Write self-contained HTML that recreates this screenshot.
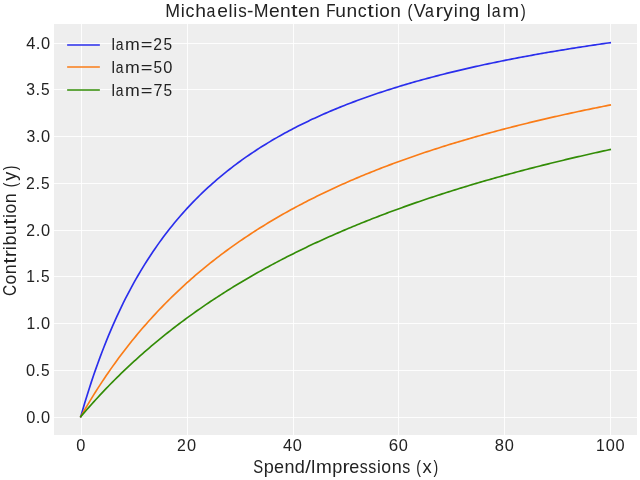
<!DOCTYPE html>
<html><head><meta charset="utf-8"><title>Michaelis-Menten Function (Varying lam)</title><style>
html,body{margin:0;padding:0;background:#fff;width:640px;height:480px;overflow:hidden}
svg{display:block;will-change:transform}
text{font-family:"Liberation Sans",sans-serif;font-kerning:none}
</style></head><body>
<svg width="640" height="480" viewBox="0 0 640 480">
<rect x="54" y="24" width="583" height="411" fill="#eeeeee"/>
<line x1="81.5" y1="24.000" x2="81.5" y2="435.000" stroke="#fff" stroke-width="0.889"/>
<line x1="187.5" y1="24.000" x2="187.5" y2="435.000" stroke="#fff" stroke-width="0.889"/>
<line x1="293.5" y1="24.000" x2="293.5" y2="435.000" stroke="#fff" stroke-width="0.889"/>
<line x1="398.5" y1="24.000" x2="398.5" y2="435.000" stroke="#fff" stroke-width="0.889"/>
<line x1="504.5" y1="24.000" x2="504.5" y2="435.000" stroke="#fff" stroke-width="0.889"/>
<line x1="610.5" y1="24.000" x2="610.5" y2="435.000" stroke="#fff" stroke-width="0.889"/>
<line x1="54.000" y1="417.5" x2="637.000" y2="417.5" stroke="#fff" stroke-width="0.889"/>
<line x1="54.000" y1="370.5" x2="637.000" y2="370.5" stroke="#fff" stroke-width="0.889"/>
<line x1="54.000" y1="323.5" x2="637.000" y2="323.5" stroke="#fff" stroke-width="0.889"/>
<line x1="54.000" y1="276.5" x2="637.000" y2="276.5" stroke="#fff" stroke-width="0.889"/>
<line x1="54.000" y1="230.5" x2="637.000" y2="230.5" stroke="#fff" stroke-width="0.889"/>
<line x1="54.000" y1="183.5" x2="637.000" y2="183.5" stroke="#fff" stroke-width="0.889"/>
<line x1="54.000" y1="136.5" x2="637.000" y2="136.5" stroke="#fff" stroke-width="0.889"/>
<line x1="54.000" y1="89.5" x2="637.000" y2="89.5" stroke="#fff" stroke-width="0.889"/>
<line x1="54.000" y1="43.5" x2="637.000" y2="43.5" stroke="#fff" stroke-width="0.889"/>
<path d="M80.76 416.64 82.89 409.25 85.02 402.09 87.14 395.15 89.27 388.41 91.39 381.88 93.52 375.54 95.65 369.39 97.77 363.41 99.90 357.59 102.03 351.94 104.15 346.44 106.28 341.09 108.40 335.89 110.53 330.81 112.66 325.87 114.78 321.06 116.91 316.37 119.04 311.79 121.16 307.33 123.29 302.98 125.41 298.73 127.54 294.58 129.67 290.53 131.79 286.57 133.92 282.70 136.05 278.92 138.17 275.23 140.30 271.62 142.42 268.09 144.55 264.63 146.68 261.25 148.80 257.94 150.93 254.69 153.06 251.52 155.18 248.41 157.31 245.37 159.43 242.38 161.56 239.46 163.69 236.59 165.81 233.78 167.94 231.02 170.07 228.32 172.19 225.67 174.32 223.07 176.44 220.51 178.57 218.01 180.70 215.55 182.82 213.13 184.95 210.76 187.08 208.43 189.20 206.14 191.33 203.89 193.45 201.68 195.58 199.51 197.71 197.38 199.83 195.28 201.96 193.21 204.08 191.18 206.21 189.19 208.34 187.23 210.46 185.29 212.59 183.39 214.72 181.52 216.84 179.68 218.97 177.87 221.09 176.09 223.22 174.34 225.35 172.61 227.47 170.90 229.60 169.23 231.73 167.58 233.85 165.95 235.98 164.35 238.10 162.77 240.23 161.21 242.36 159.68 244.48 158.17 246.61 156.68 248.74 155.21 250.86 153.76 252.99 152.33 255.11 150.93 257.24 149.54 259.37 148.17 261.49 146.82 263.62 145.48 265.75 144.17 267.87 142.87 270.00 141.59 272.12 140.33 274.25 139.08 276.38 137.85 278.50 136.63 280.63 135.43 282.76 134.25 284.88 133.08 287.01 131.93 289.13 130.79 291.26 129.66 293.39 128.55 295.51 127.45 297.64 126.36 299.77 125.29 301.89 124.23 304.02 123.19 306.14 122.15 308.27 121.13 310.40 120.12 312.52 119.12 314.65 118.14 316.78 117.16 318.90 116.20 321.03 115.24 323.15 114.30 325.28 113.37 327.41 112.45 329.53 111.54 331.66 110.64 333.78 109.75 335.91 108.87 338.04 108.00 340.16 107.13 342.29 106.28 344.42 105.44 346.54 104.60 348.67 103.78 350.79 102.96 352.92 102.15 355.05 101.35 357.17 100.56 359.30 99.78 361.43 99.00 363.55 98.24 365.68 97.48 367.80 96.73 369.93 95.98 372.06 95.25 374.18 94.52 376.31 93.79 378.44 93.08 380.56 92.37 382.69 91.67 384.81 90.98 386.94 90.29 389.07 89.61 391.19 88.93 393.32 88.27 395.45 87.61 397.57 86.95 399.70 86.30 401.82 85.66 403.95 85.02 406.08 84.39 408.20 83.77 410.33 83.15 412.46 82.53 414.58 81.92 416.71 81.32 418.83 80.72 420.96 80.13 423.09 79.55 425.21 78.97 427.34 78.39 429.47 77.82 431.59 77.25 433.72 76.69 435.84 76.14 437.97 75.58 440.10 75.04 442.22 74.50 444.35 73.96 446.48 73.43 448.60 72.90 450.73 72.37 452.85 71.86 454.98 71.34 457.11 70.83 459.23 70.32 461.36 69.82 463.48 69.32 465.61 68.83 467.74 68.34 469.86 67.86 471.99 67.37 474.12 66.90 476.24 66.42 478.37 65.95 480.49 65.48 482.62 65.02 484.75 64.56 486.87 64.11 489.00 63.66 491.13 63.21 493.25 62.76 495.38 62.32 497.50 61.88 499.63 61.45 501.76 61.02 503.88 60.59 506.01 60.16 508.14 59.74 510.26 59.32 512.39 58.91 514.51 58.50 516.64 58.09 518.77 57.68 520.89 57.28 523.02 56.88 525.15 56.48 527.27 56.09 529.40 55.70 531.52 55.31 533.65 54.92 535.78 54.54 537.90 54.16 540.03 53.78 542.16 53.41 544.28 53.04 546.41 52.67 548.53 52.30 550.66 51.94 552.79 51.58 554.91 51.22 557.04 50.86 559.17 50.51 561.29 50.16 563.42 49.81 565.54 49.46 567.67 49.12 569.80 48.77 571.92 48.44 574.05 48.10 576.18 47.76 578.30 47.43 580.43 47.10 582.55 46.77 584.68 46.45 586.81 46.12 588.93 45.80 591.06 45.48 593.18 45.16 595.31 44.85 597.44 44.53 599.56 44.22 601.69 43.91 603.82 43.61 605.94 43.30 608.07 43.00 610.19 42.70" fill="none" stroke="#2a2eec" stroke-width="1.667" stroke-linecap="square" stroke-linejoin="round"/>
<path d="M80.76 416.64 82.89 412.91 85.02 409.25 87.14 405.64 89.27 402.09 91.39 398.59 93.52 395.15 95.65 391.75 97.77 388.41 99.90 385.12 102.03 381.88 104.15 378.69 106.28 375.54 108.40 372.44 110.53 369.39 112.66 366.38 114.78 363.41 116.91 360.48 119.04 357.59 121.16 354.75 123.29 351.94 125.41 349.17 127.54 346.44 129.67 343.75 131.79 341.09 133.92 338.47 136.05 335.89 138.17 333.33 140.30 330.81 142.42 328.33 144.55 325.87 146.68 323.45 148.80 321.06 150.93 318.70 153.06 316.37 155.18 314.07 157.31 311.79 159.43 309.55 161.56 307.33 163.69 305.14 165.81 302.98 167.94 300.84 170.07 298.73 172.19 296.64 174.32 294.58 176.44 292.54 178.57 290.53 180.70 288.54 182.82 286.57 184.95 284.63 187.08 282.70 189.20 280.80 191.33 278.92 193.45 277.07 195.58 275.23 197.71 273.41 199.83 271.62 201.96 269.84 204.08 268.09 206.21 266.35 208.34 264.63 210.46 262.93 212.59 261.25 214.72 259.58 216.84 257.94 218.97 256.31 221.09 254.69 223.22 253.10 225.35 251.52 227.47 249.96 229.60 248.41 231.73 246.88 233.85 245.37 235.98 243.87 238.10 242.38 240.23 240.91 242.36 239.46 244.48 238.02 246.61 236.59 248.74 235.18 250.86 233.78 252.99 232.40 255.11 231.02 257.24 229.67 259.37 228.32 261.49 226.99 263.62 225.67 265.75 224.36 267.87 223.07 270.00 221.79 272.12 220.51 274.25 219.26 276.38 218.01 278.50 216.77 280.63 215.55 282.76 214.33 284.88 213.13 287.01 211.94 289.13 210.76 291.26 209.59 293.39 208.43 295.51 207.28 297.64 206.14 299.77 205.01 301.89 203.89 304.02 202.78 306.14 201.68 308.27 200.59 310.40 199.51 312.52 198.44 314.65 197.38 316.78 196.32 318.90 195.28 321.03 194.24 323.15 193.21 325.28 192.19 327.41 191.18 329.53 190.18 331.66 189.19 333.78 188.20 335.91 187.23 338.04 186.26 340.16 185.29 342.29 184.34 344.42 183.39 346.54 182.46 348.67 181.52 350.79 180.60 352.92 179.68 355.05 178.78 357.17 177.87 359.30 176.98 361.43 176.09 363.55 175.21 365.68 174.34 367.80 173.47 369.93 172.61 372.06 171.75 374.18 170.90 376.31 170.06 378.44 169.23 380.56 168.40 382.69 167.58 384.81 166.76 386.94 165.95 389.07 165.15 391.19 164.35 393.32 163.56 395.45 162.77 397.57 161.99 399.70 161.21 401.82 160.44 403.95 159.68 406.08 158.92 408.20 158.17 410.33 157.42 412.46 156.68 414.58 155.94 416.71 155.21 418.83 154.48 420.96 153.76 423.09 153.05 425.21 152.33 427.34 151.63 429.47 150.93 431.59 150.23 433.72 149.54 435.84 148.85 437.97 148.17 440.10 147.49 442.22 146.82 444.35 146.15 446.48 145.48 448.60 144.82 450.73 144.17 452.85 143.52 454.98 142.87 457.11 142.23 459.23 141.59 461.36 140.96 463.48 140.33 465.61 139.70 467.74 139.08 469.86 138.46 471.99 137.85 474.12 137.24 476.24 136.63 478.37 136.03 480.49 135.43 482.62 134.84 484.75 134.25 486.87 133.66 489.00 133.08 491.13 132.50 493.25 131.93 495.38 131.35 497.50 130.79 499.63 130.22 501.76 129.66 503.88 129.10 506.01 128.55 508.14 128.00 510.26 127.45 512.39 126.90 514.51 126.36 516.64 125.83 518.77 125.29 520.89 124.76 523.02 124.23 525.15 123.71 527.27 123.19 529.40 122.67 531.52 122.15 533.65 121.64 535.78 121.13 537.90 120.62 540.03 120.12 542.16 119.62 544.28 119.12 546.41 118.63 548.53 118.14 550.66 117.65 552.79 117.16 554.91 116.68 557.04 116.20 559.17 115.72 561.29 115.24 563.42 114.77 565.54 114.30 567.67 113.84 569.80 113.37 571.92 112.91 574.05 112.45 576.18 111.99 578.30 111.54 580.43 111.09 582.55 110.64 584.68 110.19 586.81 109.75 588.93 109.31 591.06 108.87 593.18 108.43 595.31 108.00 597.44 107.56 599.56 107.13 601.69 106.71 603.82 106.28 605.94 105.86 608.07 105.44 610.19 105.02" fill="none" stroke="#fa7c17" stroke-width="1.667" stroke-linecap="square" stroke-linejoin="round"/>
<path d="M80.76 416.64 82.89 414.15 85.02 411.68 87.14 409.25 89.27 406.83 91.39 404.45 93.52 402.09 95.65 399.75 97.77 397.44 99.90 395.15 102.03 392.88 104.15 390.64 106.28 388.41 108.40 386.22 110.53 384.04 112.66 381.88 114.78 379.75 116.91 377.64 119.04 375.54 121.16 373.47 123.29 371.42 125.41 369.39 127.54 367.37 129.67 365.38 131.79 363.41 133.92 361.45 136.05 359.51 138.17 357.59 140.30 355.69 142.42 353.81 144.55 351.94 146.68 350.09 148.80 348.26 150.93 346.44 153.06 344.64 155.18 342.86 157.31 341.09 159.43 339.34 161.56 337.61 163.69 335.89 165.81 334.18 167.94 332.49 170.07 330.81 172.19 329.15 174.32 327.51 176.44 325.87 178.57 324.26 180.70 322.65 182.82 321.06 184.95 319.48 187.08 317.92 189.20 316.37 191.33 314.83 193.45 313.31 195.58 311.79 197.71 310.29 199.83 308.81 201.96 307.33 204.08 305.87 206.21 304.42 208.34 302.98 210.46 301.55 212.59 300.13 214.72 298.73 216.84 297.33 218.97 295.95 221.09 294.58 223.22 293.22 225.35 291.87 227.47 290.53 229.60 289.20 231.73 287.88 233.85 286.57 235.98 285.27 238.10 283.98 240.23 282.70 242.36 281.43 244.48 280.18 246.61 278.92 248.74 277.68 250.86 276.45 252.99 275.23 255.11 274.02 257.24 272.81 259.37 271.62 261.49 270.43 263.62 269.25 265.75 268.09 267.87 266.92 270.00 265.77 272.12 264.63 274.25 263.49 276.38 262.37 278.50 261.25 280.63 260.13 282.76 259.03 284.88 257.94 287.01 256.85 289.13 255.77 291.26 254.69 293.39 253.63 295.51 252.57 297.64 251.52 299.77 250.48 301.89 249.44 304.02 248.41 306.14 247.39 308.27 246.37 310.40 245.37 312.52 244.37 314.65 243.37 316.78 242.38 318.90 241.40 321.03 240.43 323.15 239.46 325.28 238.50 327.41 237.54 329.53 236.59 331.66 235.65 333.78 234.71 335.91 233.78 338.04 232.86 340.16 231.94 342.29 231.02 344.42 230.12 346.54 229.22 348.67 228.32 350.79 227.43 352.92 226.55 355.05 225.67 357.17 224.80 359.30 223.93 361.43 223.07 363.55 222.21 365.68 221.36 367.80 220.51 369.93 219.67 372.06 218.84 374.18 218.01 376.31 217.18 378.44 216.36 380.56 215.55 382.69 214.74 384.81 213.93 386.94 213.13 389.07 212.34 391.19 211.55 393.32 210.76 395.45 209.98 397.57 209.20 399.70 208.43 401.82 207.66 403.95 206.90 406.08 206.14 408.20 205.39 410.33 204.64 412.46 203.89 414.58 203.15 416.71 202.41 418.83 201.68 420.96 200.95 423.09 200.23 425.21 199.51 427.34 198.79 429.47 198.08 431.59 197.38 433.72 196.67 435.84 195.97 437.97 195.28 440.10 194.59 442.22 193.90 444.35 193.21 446.48 192.53 448.60 191.86 450.73 191.18 452.85 190.52 454.98 189.85 457.11 189.19 459.23 188.53 461.36 187.88 463.48 187.23 465.61 186.58 467.74 185.93 469.86 185.29 471.99 184.66 474.12 184.02 476.24 183.39 478.37 182.77 480.49 182.14 482.62 181.52 484.75 180.91 486.87 180.29 489.00 179.68 491.13 179.08 493.25 178.47 495.38 177.87 497.50 177.28 499.63 176.68 501.76 176.09 503.88 175.50 506.01 174.92 508.14 174.34 510.26 173.76 512.39 173.18 514.51 172.61 516.64 172.04 518.77 171.47 520.89 170.90 523.02 170.34 525.15 169.78 527.27 169.23 529.40 168.68 531.52 168.12 533.65 167.58 535.78 167.03 537.90 166.49 540.03 165.95 542.16 165.41 544.28 164.88 546.41 164.35 548.53 163.82 550.66 163.29 552.79 162.77 554.91 162.25 557.04 161.73 559.17 161.21 561.29 160.70 563.42 160.19 565.54 159.68 567.67 159.17 569.80 158.67 571.92 158.17 574.05 157.67 576.18 157.17 578.30 156.68 580.43 156.19 582.55 155.70 584.68 155.21 586.81 154.72 588.93 154.24 591.06 153.76 593.18 153.28 595.31 152.81 597.44 152.33 599.56 151.86 601.69 151.39 603.82 150.93 605.94 150.46 608.07 150.00 610.19 149.54" fill="none" stroke="#328c06" stroke-width="1.667" stroke-linecap="square" stroke-linejoin="round"/>
<line x1="68" y1="45" x2="99" y2="45" stroke="#2a2eec" stroke-width="1.710" stroke-linecap="square"/>
<line x1="68" y1="67" x2="99" y2="67" stroke="#fa7c17" stroke-width="1.710" stroke-linecap="square"/>
<line x1="68" y1="90" x2="99" y2="90" stroke="#328c06" stroke-width="1.710" stroke-linecap="square"/>
<g fill="#222222" font-family="Liberation Sans, sans-serif">
<text y="451.22" font-size="16.33" fill="#222222"><tspan x="76.15" textLength="9.12" lengthAdjust="spacingAndGlyphs">0</tspan></text>
<text y="451.22" font-size="16.33" fill="#222222"><tspan x="177.12" textLength="8.79" lengthAdjust="spacingAndGlyphs">2</tspan><tspan x="187.02" textLength="9.12" lengthAdjust="spacingAndGlyphs">0</tspan></text>
<text y="451.22" font-size="16.33" fill="#222222"><tspan x="282.98" textLength="9.12" lengthAdjust="spacingAndGlyphs">4</tspan><tspan x="292.84" textLength="9.12" lengthAdjust="spacingAndGlyphs">0</tspan></text>
<text y="451.22" font-size="16.33" fill="#222222"><tspan x="388.71" textLength="9.44" lengthAdjust="spacingAndGlyphs">6</tspan><tspan x="398.73" textLength="9.12" lengthAdjust="spacingAndGlyphs">0</tspan></text>
<text y="451.22" font-size="16.33" fill="#222222"><tspan x="494.77" textLength="9.22" lengthAdjust="spacingAndGlyphs">8</tspan><tspan x="504.68" textLength="9.12" lengthAdjust="spacingAndGlyphs">0</tspan></text>
<text y="451.22" font-size="16.33" fill="#222222"><tspan x="595.96" textLength="8.71" lengthAdjust="spacingAndGlyphs">1</tspan><tspan x="605.69" textLength="9.12" lengthAdjust="spacingAndGlyphs">0</tspan><tspan x="615.55" textLength="9.12" lengthAdjust="spacingAndGlyphs">0</tspan></text>
<text y="472.67" font-size="17.58" fill="#222222"><tspan x="253.28" textLength="9.91" lengthAdjust="spacingAndGlyphs">S</tspan><tspan x="263.75" textLength="10.08" lengthAdjust="spacingAndGlyphs">p</tspan><tspan x="274.11" textLength="10.01" lengthAdjust="spacingAndGlyphs">e</tspan><tspan x="284.51" textLength="9.99" lengthAdjust="spacingAndGlyphs">n</tspan><tspan x="294.88" textLength="10.07" lengthAdjust="spacingAndGlyphs">d</tspan><tspan x="305.28" textLength="5.62" lengthAdjust="spacingAndGlyphs">/</tspan><tspan x="310.89" textLength="4.90" lengthAdjust="spacingAndGlyphs">I</tspan><tspan x="316.04" textLength="15.82" lengthAdjust="spacingAndGlyphs">m</tspan><tspan x="332.32" textLength="10.08" lengthAdjust="spacingAndGlyphs">p</tspan><tspan x="342.63" textLength="7.11" lengthAdjust="spacingAndGlyphs">r</tspan><tspan x="349.15" textLength="10.01" lengthAdjust="spacingAndGlyphs">e</tspan><tspan x="359.68" textLength="7.99" lengthAdjust="spacingAndGlyphs">s</tspan><tspan x="368.34" textLength="7.99" lengthAdjust="spacingAndGlyphs">s</tspan><tspan x="376.97" textLength="3.79" lengthAdjust="spacingAndGlyphs">i</tspan><tspan x="381.34" textLength="9.85" lengthAdjust="spacingAndGlyphs">o</tspan><tspan x="391.65" textLength="9.99" lengthAdjust="spacingAndGlyphs">n</tspan><tspan x="402.33" textLength="7.99" lengthAdjust="spacingAndGlyphs">s</tspan> <tspan x="416.37" textLength="4.69" lengthAdjust="spacingAndGlyphs">(</tspan><tspan x="422.57" textLength="9.24" lengthAdjust="spacingAndGlyphs">x</tspan><tspan x="433.39" textLength="4.69" lengthAdjust="spacingAndGlyphs">)</tspan></text>
<text y="422.64" font-size="15.79" fill="#222222"><tspan x="26.29" textLength="9.12" lengthAdjust="spacingAndGlyphs">0</tspan><tspan x="35.89" textLength="4.68" lengthAdjust="spacingAndGlyphs">.</tspan><tspan x="41.08" textLength="9.12" lengthAdjust="spacingAndGlyphs">0</tspan></text>
<text y="375.89" font-size="15.79" fill="#222222"><tspan x="26.04" textLength="9.12" lengthAdjust="spacingAndGlyphs">0</tspan><tspan x="35.64" textLength="4.68" lengthAdjust="spacingAndGlyphs">.</tspan><tspan x="41.02" textLength="8.61" lengthAdjust="spacingAndGlyphs">5</tspan></text>
<text y="329.15" font-size="15.79" fill="#222222"><tspan x="26.42" textLength="8.71" lengthAdjust="spacingAndGlyphs">1</tspan><tspan x="35.89" textLength="4.68" lengthAdjust="spacingAndGlyphs">.</tspan><tspan x="41.08" textLength="9.12" lengthAdjust="spacingAndGlyphs">0</tspan></text>
<text y="282.41" font-size="15.79" fill="#222222"><tspan x="26.17" textLength="8.71" lengthAdjust="spacingAndGlyphs">1</tspan><tspan x="35.64" textLength="4.68" lengthAdjust="spacingAndGlyphs">.</tspan><tspan x="41.02" textLength="8.61" lengthAdjust="spacingAndGlyphs">5</tspan></text>
<text y="235.67" font-size="15.79" fill="#222222"><tspan x="26.25" textLength="8.79" lengthAdjust="spacingAndGlyphs">2</tspan><tspan x="35.89" textLength="4.68" lengthAdjust="spacingAndGlyphs">.</tspan><tspan x="41.08" textLength="9.12" lengthAdjust="spacingAndGlyphs">0</tspan></text>
<text y="188.92" font-size="15.79" fill="#222222"><tspan x="26.00" textLength="8.79" lengthAdjust="spacingAndGlyphs">2</tspan><tspan x="35.64" textLength="4.68" lengthAdjust="spacingAndGlyphs">.</tspan><tspan x="41.02" textLength="8.61" lengthAdjust="spacingAndGlyphs">5</tspan></text>
<text y="142.18" font-size="15.79" fill="#222222"><tspan x="26.49" textLength="8.76" lengthAdjust="spacingAndGlyphs">3</tspan><tspan x="35.89" textLength="4.68" lengthAdjust="spacingAndGlyphs">.</tspan><tspan x="41.08" textLength="9.12" lengthAdjust="spacingAndGlyphs">0</tspan></text>
<text y="95.44" font-size="15.79" fill="#222222"><tspan x="26.24" textLength="8.76" lengthAdjust="spacingAndGlyphs">3</tspan><tspan x="35.64" textLength="4.68" lengthAdjust="spacingAndGlyphs">.</tspan><tspan x="41.02" textLength="8.61" lengthAdjust="spacingAndGlyphs">5</tspan></text>
<text y="48.70" font-size="15.79" fill="#222222"><tspan x="26.16" textLength="9.12" lengthAdjust="spacingAndGlyphs">4</tspan><tspan x="35.77" textLength="4.68" lengthAdjust="spacingAndGlyphs">.</tspan><tspan x="40.95" textLength="9.12" lengthAdjust="spacingAndGlyphs">0</tspan></text>
<text transform="translate(16.33,295.10) rotate(-90)" y="0" font-size="17.63" fill="#222222"><tspan x="-0.97" textLength="11.17" lengthAdjust="spacingAndGlyphs">C</tspan><tspan x="10.66" textLength="9.85" lengthAdjust="spacingAndGlyphs">o</tspan><tspan x="20.98" textLength="9.99" lengthAdjust="spacingAndGlyphs">n</tspan><tspan x="31.30" textLength="6.19" lengthAdjust="spacingAndGlyphs">t</tspan><tspan x="37.81" textLength="7.11" lengthAdjust="spacingAndGlyphs">r</tspan><tspan x="44.98" textLength="3.79" lengthAdjust="spacingAndGlyphs">i</tspan><tspan x="49.51" textLength="10.08" lengthAdjust="spacingAndGlyphs">b</tspan><tspan x="59.97" textLength="9.99" lengthAdjust="spacingAndGlyphs">u</tspan><tspan x="70.36" textLength="6.19" lengthAdjust="spacingAndGlyphs">t</tspan><tspan x="77.20" textLength="3.79" lengthAdjust="spacingAndGlyphs">i</tspan><tspan x="81.57" textLength="9.85" lengthAdjust="spacingAndGlyphs">o</tspan><tspan x="91.88" textLength="9.99" lengthAdjust="spacingAndGlyphs">n</tspan> <tspan x="107.94" textLength="4.70" lengthAdjust="spacingAndGlyphs">(</tspan><tspan x="114.32" textLength="8.95" lengthAdjust="spacingAndGlyphs">y</tspan><tspan x="124.96" textLength="4.70" lengthAdjust="spacingAndGlyphs">)</tspan></text>
<text y="17.33" font-size="18.40" fill="#222222"><tspan x="165.21" textLength="14.77" lengthAdjust="spacingAndGlyphs">M</tspan><tspan x="180.69" textLength="4.04" lengthAdjust="spacingAndGlyphs">i</tspan><tspan x="185.39" textLength="8.92" lengthAdjust="spacingAndGlyphs">c</tspan><tspan x="195.20" textLength="10.73" lengthAdjust="spacingAndGlyphs">h</tspan><tspan x="206.56" textLength="8.89" lengthAdjust="spacingAndGlyphs">a</tspan><tspan x="217.21" textLength="10.68" lengthAdjust="spacingAndGlyphs">e</tspan><tspan x="228.42" textLength="4.04" lengthAdjust="spacingAndGlyphs">l</tspan><tspan x="233.36" textLength="4.04" lengthAdjust="spacingAndGlyphs">i</tspan><tspan x="238.32" textLength="8.52" lengthAdjust="spacingAndGlyphs">s</tspan><tspan x="247.10" textLength="6.38" lengthAdjust="spacingAndGlyphs">-</tspan><tspan x="253.78" textLength="14.77" lengthAdjust="spacingAndGlyphs">M</tspan><tspan x="268.96" textLength="10.68" lengthAdjust="spacingAndGlyphs">e</tspan><tspan x="280.06" textLength="10.66" lengthAdjust="spacingAndGlyphs">n</tspan><tspan x="291.09" textLength="6.60" lengthAdjust="spacingAndGlyphs">t</tspan><tspan x="298.09" textLength="10.68" lengthAdjust="spacingAndGlyphs">e</tspan><tspan x="309.19" textLength="10.66" lengthAdjust="spacingAndGlyphs">n</tspan> <tspan x="326.24" textLength="9.31" lengthAdjust="spacingAndGlyphs">F</tspan><tspan x="335.22" textLength="10.66" lengthAdjust="spacingAndGlyphs">u</tspan><tspan x="346.54" textLength="10.66" lengthAdjust="spacingAndGlyphs">n</tspan><tspan x="357.67" textLength="8.92" lengthAdjust="spacingAndGlyphs">c</tspan><tspan x="367.33" textLength="6.60" lengthAdjust="spacingAndGlyphs">t</tspan><tspan x="374.63" textLength="4.04" lengthAdjust="spacingAndGlyphs">i</tspan><tspan x="379.29" textLength="10.51" lengthAdjust="spacingAndGlyphs">o</tspan><tspan x="390.30" textLength="10.66" lengthAdjust="spacingAndGlyphs">n</tspan> <tspan x="407.45" textLength="5.00" lengthAdjust="spacingAndGlyphs">(</tspan><tspan x="413.84" textLength="12.03" lengthAdjust="spacingAndGlyphs">V</tspan><tspan x="424.93" textLength="8.89" lengthAdjust="spacingAndGlyphs">a</tspan><tspan x="435.52" textLength="7.59" lengthAdjust="spacingAndGlyphs">r</tspan><tspan x="443.20" textLength="9.55" lengthAdjust="spacingAndGlyphs">y</tspan><tspan x="453.68" textLength="4.04" lengthAdjust="spacingAndGlyphs">i</tspan><tspan x="458.50" textLength="10.66" lengthAdjust="spacingAndGlyphs">n</tspan><tspan x="469.57" textLength="10.75" lengthAdjust="spacingAndGlyphs">g</tspan> <tspan x="486.77" textLength="4.04" lengthAdjust="spacingAndGlyphs">l</tspan><tspan x="491.63" textLength="8.89" lengthAdjust="spacingAndGlyphs">a</tspan><tspan x="502.39" textLength="16.87" lengthAdjust="spacingAndGlyphs">m</tspan><tspan x="520.75" textLength="5.00" lengthAdjust="spacingAndGlyphs">)</tspan></text>
<text y="50.00" font-size="16.61" fill="#222222"><tspan x="111.49" textLength="3.53" lengthAdjust="spacingAndGlyphs">l</tspan><tspan x="115.74" textLength="7.78" lengthAdjust="spacingAndGlyphs">a</tspan><tspan x="125.14" textLength="14.76" lengthAdjust="spacingAndGlyphs">m</tspan><tspan x="140.67" textLength="11.70" lengthAdjust="spacingAndGlyphs">=</tspan><tspan x="153.33" textLength="8.79" lengthAdjust="spacingAndGlyphs">2</tspan><tspan x="163.43" textLength="8.61" lengthAdjust="spacingAndGlyphs">5</tspan></text>
<text y="72.78" font-size="16.61" fill="#222222"><tspan x="111.49" textLength="3.53" lengthAdjust="spacingAndGlyphs">l</tspan><tspan x="115.74" textLength="7.78" lengthAdjust="spacingAndGlyphs">a</tspan><tspan x="125.14" textLength="14.76" lengthAdjust="spacingAndGlyphs">m</tspan><tspan x="140.67" textLength="11.70" lengthAdjust="spacingAndGlyphs">=</tspan><tspan x="153.57" textLength="8.61" lengthAdjust="spacingAndGlyphs">5</tspan><tspan x="163.23" textLength="9.12" lengthAdjust="spacingAndGlyphs">0</tspan></text>
<text y="95.56" font-size="16.61" fill="#222222"><tspan x="111.49" textLength="3.53" lengthAdjust="spacingAndGlyphs">l</tspan><tspan x="115.74" textLength="7.78" lengthAdjust="spacingAndGlyphs">a</tspan><tspan x="125.14" textLength="14.76" lengthAdjust="spacingAndGlyphs">m</tspan><tspan x="140.67" textLength="11.70" lengthAdjust="spacingAndGlyphs">=</tspan><tspan x="153.44" textLength="8.92" lengthAdjust="spacingAndGlyphs">7</tspan><tspan x="163.43" textLength="8.61" lengthAdjust="spacingAndGlyphs">5</tspan></text>
</g>
</svg>
</body></html>
